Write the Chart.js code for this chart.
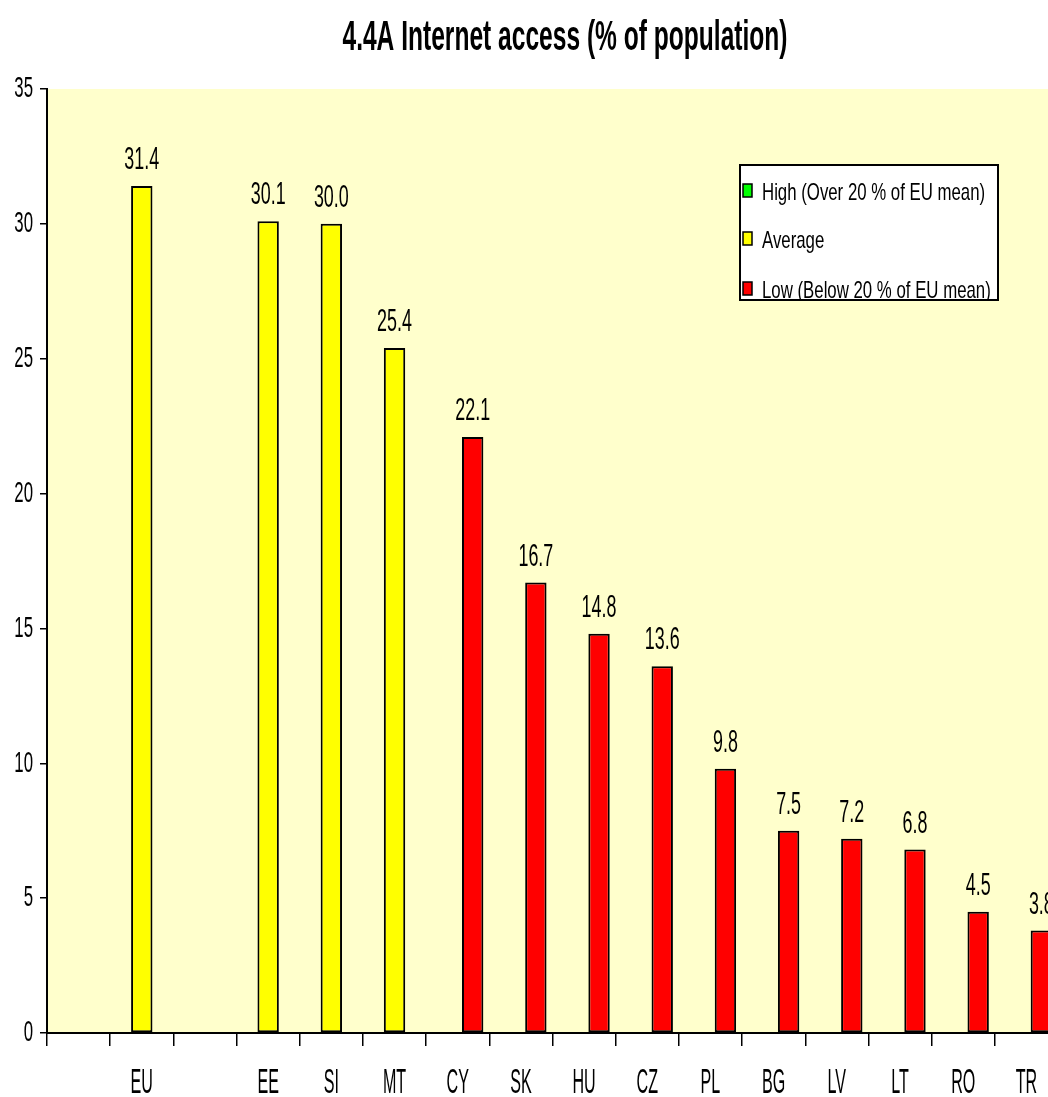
<!DOCTYPE html>
<html>
<head>
  <title>Internet access</title>
  <script src="https://cdn.jsdelivr.net/npm/chart.js@4.4.1/dist/chart.umd.min.js"></script>
  <style>
    html, body { margin: 0; padding: 0; background: #fff; overflow: hidden; }
    #wrap { width: 1060px; height: 1097px; }
  </style>
</head>
<body>
  <div id="wrap"><canvas id="accessChart" width="1060" height="1097"></canvas></div>

  <script>
    // countries, blank slots keep the gaps of the original layout
    const countries = ['', 'EU', '', 'EE', 'SI', 'MT', 'CY', 'SK', 'HU', 'CZ', 'PL', 'BG', 'LV', 'LT', 'RO', 'TR'];
    const highValues = [null, null, null, null, null, null, null, null, null, null, null, null, null, null, null, null];
    const averageValues = [null, 31.4, null, 30.1, 30.0, 25.4, null, null, null, null, null, null, null, null, null, null];
    const lowValues = [null, null, null, null, null, null, 22.1, 16.7, 14.8, 13.6, 9.8, 7.5, 7.2, 6.8, 4.5, 3.8];
    const seriesNames = ['High (Over 20 % of EU mean)', 'Average', 'Low (Below 20 % of EU mean)'];
    const yTicks = [0, 5, 10, 15, 20, 25, 30, 35];
    const chartTitle = '4.4A Internet access (% of population)';

    // draws text squeezed horizontally, like the narrow bitmap font of the old chart
    function narrowText(ctx, text, x, y, sx, align) {
      ctx.save();
      ctx.translate(x, y);
      ctx.scale(sx, 1);
      ctx.textAlign = align;
      ctx.fillText(text, 0, 0);
      ctx.restore();
    }

    const paperPlugin = {
      id: 'paper',
      beforeDraw(chart) {
        const a = chart.chartArea;
        const ctx = chart.ctx;
        ctx.save();
        ctx.fillStyle = '#ffffcc';
        ctx.fillRect(a.left, a.top, a.right - a.left, a.bottom - a.top);
        ctx.restore();
      },
      afterDraw(chart) {
        const ctx = chart.ctx;
        const xs = chart.scales.x;
        const ys = chart.scales.y;
        ctx.save();
        ctx.fillStyle = '#000';
        ctx.textBaseline = 'alphabetic';

        // title
        ctx.font = 'bold 42px "Liberation Sans", Arial, sans-serif';
        narrowText(ctx, chartTitle, 565, 50, 0.585, 'center');

        // y tick labels
        ctx.font = '30px "Liberation Sans", Arial, sans-serif';
        ctx.textBaseline = 'middle';
        yTicks.forEach(v => {
          narrowText(ctx, String(v), 33, ys.getPixelForValue(v), 0.56, 'right');
        });

        // category labels
        ctx.font = '35px "Liberation Sans", Arial, sans-serif';
        ctx.textBaseline = 'alphabetic';
        countries.forEach((c, i) => {
          if (c) narrowText(ctx, c, xs.getPixelForValue(i), 1093, 0.46, 'center');
        });

        // value labels above bars
        ctx.font = '32px "Liberation Sans", Arial, sans-serif';
        chart.data.datasets.forEach((ds, di) => {
          const meta = chart.getDatasetMeta(di);
          meta.data.forEach((bar, i) => {
            const v = ds.data[i];
            if (v === null || v === undefined) return;
            narrowText(ctx, v.toFixed(1), bar.x, bar.y - 17, 0.56, 'center');
          });
        });

        // legend box
        const lx = 740, ly = 165, lw = 258, lh = 135;
        ctx.fillStyle = '#fff';
        ctx.fillRect(lx, ly, lw, lh);
        ctx.save();
        ctx.beginPath();
        ctx.rect(lx, ly, lw, lh);
        ctx.clip();
        ctx.font = '24px "Liberation Sans", Arial, sans-serif';
        const rowBase = [200, 248, 298];
        chart.data.datasets.forEach((ds, di) => {
          const by = rowBase[di];
          ctx.fillStyle = ds.backgroundColor;
          ctx.fillRect(743, by - 16, 9, 13);
          ctx.strokeStyle = '#000';
          ctx.lineWidth = 1.5;
          ctx.strokeRect(743, by - 16, 9, 13);
          ctx.fillStyle = '#000';
          narrowText(ctx, ds.label, 762, by, 0.7, 'left');
        });
        ctx.restore();
        ctx.strokeStyle = '#000';
        ctx.lineWidth = 2;
        ctx.strokeRect(lx, ly, lw, lh);
        ctx.restore();
      }
    };

    const ctx = document.getElementById('accessChart').getContext('2d');
    new Chart(ctx, {
      type: 'bar',
      data: {
        labels: countries,
        datasets: [
          { label: seriesNames[0], data: highValues, backgroundColor: '#00ff00' },
          { label: seriesNames[1], data: averageValues, backgroundColor: '#ffff00' },
          { label: seriesNames[2], data: lowValues, backgroundColor: '#ff0000' }
        ]
      },
      options: {
        responsive: false,
        animation: false,
        layout: { padding: { left: 40, top: 89, right: 2, bottom: 51 } },
        datasets: {
          bar: {
            borderColor: '#000',
            borderWidth: 2,
            borderSkipped: false,
            categoryPercentage: 0.71,
            barPercentage: 1.43
          }
        },
        plugins: {
          legend: { display: false },
          title: { display: false },
          tooltip: { enabled: false }
        },
        scales: {
          x: {
            grid: { offset: true, drawOnChartArea: false, tickLength: 13, color: '#000', lineWidth: 1.5 },
            border: { color: '#000', width: 2 },
            ticks: { display: false }
          },
          y: {
            min: 0,
            max: 35,
            grid: { drawOnChartArea: false, tickLength: 7, color: '#000', lineWidth: 1.5 },
            border: { color: '#000', width: 2 },
            ticks: { display: false, stepSize: 5 }
          }
        }
      },
      plugins: [paperPlugin]
    });
  </script>
</body>
</html>
